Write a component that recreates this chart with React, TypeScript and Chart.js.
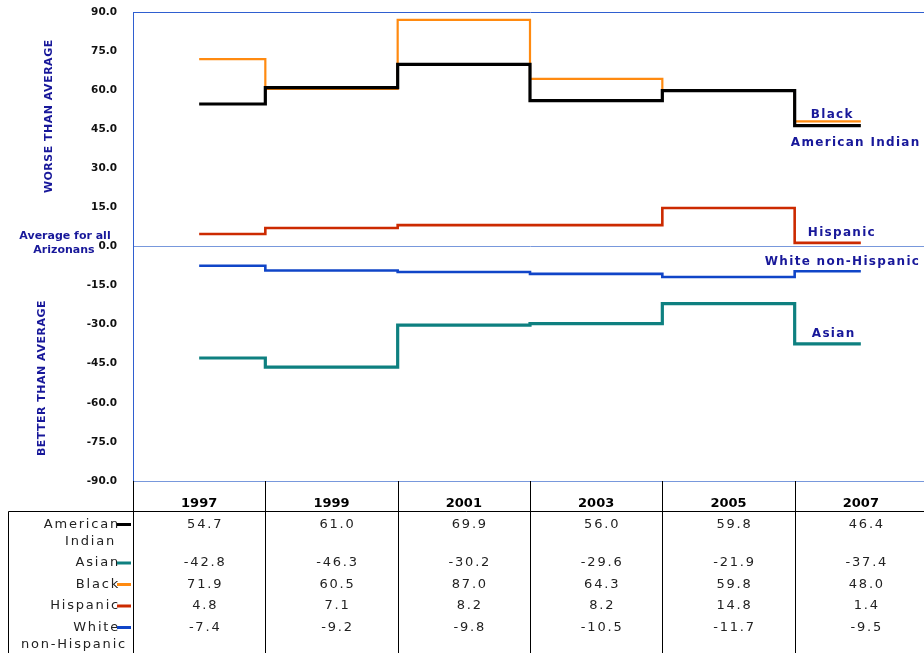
import React, { useEffect, useRef } from "react";
import { Chart, registerables } from "chart.js";

Chart.register(...registerables);

const YEARS = ["1997", "1999", "2001", "2003", "2005", "2007"];
const AMERICAN_INDIAN = [54.7, 61.0, 69.9, 56.0, 59.8, 46.4];
const ASIAN = [-42.8, -46.3, -30.2, -29.6, -21.9, -37.4];
const BLACK = [71.9, 60.5, 87.0, 64.3, 59.8, 48.0];
const HISPANIC = [4.8, 7.1, 8.2, 8.2, 14.8, 1.4];
const WHITE = [-7.4, -9.2, -9.8, -10.5, -11.7, -9.5];

const SERIES_NAMES = ["American Indian", "Asian", "Black", "Hispanic", "White non-Hispanic"];
const ROW_LABELS = [["American", "Indian"], ["Asian"], ["Black"], ["Hispanic"], ["White", "non-Hispanic"]];

const COLORS = ["#000000", "#0e8080", "#ff8a10", "#cc2a00", "#1045c8"];
const WIDTHS = [3.2, 3.2, 2.2, 2.6, 2.6];
const NAVY = "#18189a";

// end label placement relative to last point (layout only)
const END_LABEL_OFFSETS = [
  { dx: -70, dy: 17 },
  { dx: -49, dy: -10 },
  { dx: -50, dy: -7 },
  { dx: -53, dy: -10 },
  { dx: -96, dy: -9 },
];

const FONT = "'DejaVu Sans', Verdana, sans-serif";

const overlayPlugin = {
  id: "overlay",
  afterDraw(chart: any) {
    const ctx = chart.ctx as CanvasRenderingContext2D;
    const xs = chart.scales.x;
    const ys = chart.scales.y;
    const area = chart.chartArea;
    const n = YEARS.length;
    const colW = (area.right - area.left) / n;
    const headerBottom = Math.round(xs.bottom) + 0.5;
    const H = chart.height;
    ctx.save();

    // table lines
    ctx.strokeStyle = "#000";
    ctx.lineWidth = 1;
    ctx.beginPath();
    ctx.moveTo(8.5, headerBottom);
    ctx.lineTo(924, headerBottom);
    ctx.moveTo(8.5, headerBottom);
    ctx.lineTo(8.5, H);
    for (let i = 0; i < n; i++) {
      const bx = Math.round(area.left + i * colW) + 0.5;
      ctx.moveTo(bx, Math.round(area.bottom));
      ctx.lineTo(bx, H);
    }
    ctx.stroke();

    // table rows
    const data = chart.data.datasets.map((d: any) => d.data as number[]);
    let rowY = headerBottom + 13;
    ctx.font = `13px ${FONT}`;
    ctx.fillStyle = "#222";
    ctx.textBaseline = "middle";
    (ctx as any).letterSpacing = "1.8px";
    for (let r = 0; r < ROW_LABELS.length; r++) {
      const lines = ROW_LABELS[r];
      ctx.textAlign = "right";
      ctx.fillStyle = "#222";
      ctx.fillText(lines[0], 120, rowY);
      if (lines.length > 1) {
        if (r === 0) ctx.fillText(lines[1], 116, rowY + 17);
        else ctx.fillText(lines[1], 127, rowY + 17);
      }
      ctx.save();
      ctx.strokeStyle = COLORS[r];
      ctx.lineWidth = 3;
      ctx.beginPath();
      ctx.moveTo(117, rowY);
      ctx.lineTo(131, rowY);
      ctx.stroke();
      ctx.restore();
      ctx.textAlign = "center";
      ctx.fillStyle = "#222";
      for (let i = 0; i < n; i++) {
        const cx = xs.getPixelForValue(i);
        ctx.fillText(data[r][i].toFixed(1), cx + 6, rowY);
      }
      rowY += 17 * (lines.length - 1) + 21.5;
    }

    // end labels
    ctx.font = `bold 12px ${FONT}`;
    ctx.fillStyle = NAVY;
    ctx.textAlign = "left";
    (ctx as any).letterSpacing = "1.3px";
    for (let r = 0; r < SERIES_NAMES.length; r++) {
      const meta = chart.getDatasetMeta(r);
      const last = meta.data[meta.data.length - 1];
      const off = END_LABEL_OFFSETS[r];
      ctx.fillText(SERIES_NAMES[r], last.x + off.dx, last.y + off.dy);
    }

    // axis side titles
    ctx.font = `bold 11px ${FONT}`;
    (ctx as any).letterSpacing = "0.5px";
    ctx.textAlign = "center";
    ctx.save();
    ctx.translate(49, ys.getPixelForValue(50));
    ctx.rotate(-Math.PI / 2);
    ctx.fillText("WORSE THAN AVERAGE", 0, 0);
    ctx.restore();
    ctx.save();
    ctx.translate(42, ys.getPixelForValue(-50.5));
    ctx.rotate(-Math.PI / 2);
    ctx.fillText("BETTER THAN AVERAGE", 0, 0);
    ctx.restore();

    (ctx as any).letterSpacing = "0px";
    const zy = ys.getPixelForValue(0);
    ctx.fillText("Average for all", 65, zy - 10);
    ctx.fillText("Arizonans", 64, zy + 4);

    ctx.restore();
  },
};

export default function App() {
  const ref = useRef<HTMLCanvasElement | null>(null);
  useEffect(() => {
    if (!ref.current) return;
    const seriesData = [AMERICAN_INDIAN, ASIAN, BLACK, HISPANIC, WHITE];
    const chart = new Chart(ref.current, {
      type: "line",
      data: {
        labels: YEARS,
        datasets: seriesData.map((d, i) => ({
          label: SERIES_NAMES[i],
          data: d,
          borderColor: COLORS[i],
          backgroundColor: COLORS[i],
          borderWidth: WIDTHS[i],
          stepped: "middle" as const,
          pointRadius: 0,
          fill: false,
          borderJoinStyle: "miter" as const,
          borderCapStyle: "butt" as const,
        })),
      },
      options: {
        animation: false,
        responsive: false,
        devicePixelRatio: 1,
        layout: { autoPadding: false, padding: { left: 0, top: 12, right: 13, bottom: 142 } },
        plugins: { legend: { display: false }, tooltip: { enabled: false } },
        scales: {
          x: {
            type: "category",
            offset: true,
            grid: { display: false, drawTicks: false },
            border: { display: false },
            ticks: {
              autoSkip: false,
              maxRotation: 0,
              padding: 15,
              color: "#000",
              font: { family: FONT, size: 13, weight: "bold" },
            },
            afterFit: (s: any) => {
              s.height = 30;
              s.paddingLeft = 0;
              s.paddingRight = 0;
            },
          },
          y: {
            min: -90,
            max: 90,
            grid: {
              drawTicks: false,
              color: (c: any) => {
                const v = c.tick ? c.tick.value : null;
                if (v === 90) return "#2f5fd0";
                if (v === 0 || v === -90) return "#7898dc";
                return "rgba(0,0,0,0)";
              },
            },
            border: { display: true, color: "#2f5fd0" },
            ticks: {
              stepSize: 15,
              padding: 16,
              color: "#111",
              font: { family: FONT, size: 10.5, weight: "bold" },
              callback: (v: any) => Number(v).toFixed(1),
            },
            afterFit: (s: any) => {
              s.width = 133;
              s.paddingTop = 0;
              s.paddingBottom = 0;
            },
          },
        },
      },
      plugins: [overlayPlugin],
    });
    return () => chart.destroy();
  }, []);
  return (
    <div style={{ position: "absolute", left: 0, top: 0, width: 924, height: 653, overflow: "hidden", background: "#fff" }}>
      <canvas ref={ref} width={940} height={653} style={{ width: 940, height: 653, display: "block" }} />
    </div>
  );
}
